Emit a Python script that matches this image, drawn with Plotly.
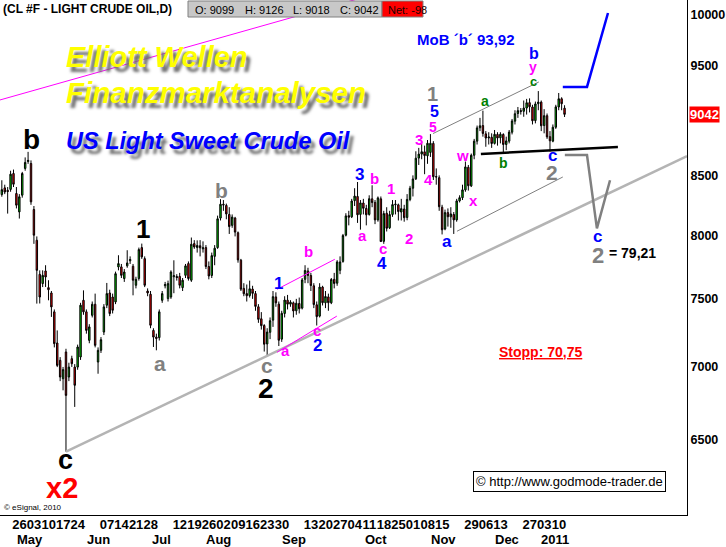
import math
import pandas as pd
import plotly.graph_objects as go

# ---------------- data ----------------
dates = pd.bdate_range("2010-04-20", "2011-01-14")

opens = [8336, 8393, 8372, 8380, 8516, 8345, 8191, 8331, 8560, 8620,
         8603, 8211, 7959, 7689, 7617, 7715, 7586, 7545, 7402, 7172,
         7047, 6917, 7107, 6929, 7059, 6999, 6999, 7071, 7489, 7402,
         7191, 7376, 7459, 7035, 7119, 7252, 7452, 7545, 7514, 7477,
         7747, 7747, 7656, 7755, 7795, 7752, 7604, 7656, 7900, 7812,
         7560, 7535, 7264, 7215, 7211, 7489, 7600, 7502, 7514, 7670,
         7672, 7673, 7586, 7681, 7773, 7643, 7932, 7900, 7915, 7890,
         7900, 7750, 7680, 7830, 7900, 8140, 8255, 8245, 8170, 8080,
         8140, 8020, 7800, 7580, 7540, 7525, 7575, 7540, 7440, 7350,
         7300, 7165, 7250, 7340, 7515, 7460, 7200, 7390, 7490, 7460,
         7470, 7410, 7465, 7430, 7650, 7715, 7680, 7600, 7455, 7370,
         7590, 7470, 7515, 7470, 7650, 7620, 7720, 7790, 8000, 8160,
         8150, 8285, 8320, 8170, 8265, 8220, 8170, 8300, 8270, 8125,
         8300, 7950, 8180, 8060, 8170, 8250, 8250, 8190, 8215, 8145,
         8295, 8390, 8470, 8650, 8685, 8705, 8670, 8700, 8780, 8490,
         8480, 8230, 8050, 8185, 8150, 8170, 8125, 8283, 8310, 8376,
         8570, 8410, 8675, 8800, 8920, 8940, 8865, 8828, 8835, 8780,
         8860, 8830, 8860, 8770, 8800, 8880, 8980, 9050, 9076, 9070,
         9100, 9150, 9110, 8985, 9140, 9155, 8940, 9030, 8840, 8800,
         8925, 9110, 9186, 9099]

highs = [8458, 8420, 8400, 8540, 8550, 8400, 8340, 8530, 8656, 8705,
         8630, 8240, 7990, 7720, 7720, 7760, 7643, 7560, 7420, 7264,
         7070, 7000, 7130, 7030, 7080, 7020, 7160, 7470, 7565, 7420,
         7310, 7480, 7540, 7140, 7215, 7460, 7622, 7570, 7540, 7710,
         7839, 7770, 7730, 7879, 7830, 7770, 7670, 7900, 7932, 7830,
         7580, 7560, 7280, 7240, 7420, 7560, 7630, 7640, 7720, 7799,
         7690, 7700, 7660, 7770, 7790, 7981, 7960, 7958, 7960, 7950,
         7920, 7790, 7860, 7920, 8160, 8297, 8290, 8260, 8230, 8170,
         8150, 8030, 7810, 7620, 7610, 7640, 7600, 7560, 7460, 7400,
         7310, 7280, 7360, 7560, 7550, 7480, 7410, 7520, 7530, 7490,
         7480, 7500, 7510, 7660, 7760, 7740, 7700, 7620, 7480, 7620,
         7600, 7560, 7540, 7660, 7700, 7800, 7830, 8010, 8180, 8200,
         8300, 8390, 8443, 8290, 8300, 8250, 8330, 8415, 8290, 8320,
         8320, 8200, 8230, 8200, 8290, 8290, 8260, 8300, 8250, 8340,
         8410, 8500, 8710, 8740, 8780, 8760, 8810, 8863, 8800, 8560,
         8500, 8250, 8210, 8220, 8230, 8190, 8300, 8330, 8420, 8620,
         8590, 8690, 8820, 8940, 9010, 9076, 8890, 8880, 8870, 8900,
         8880, 8880, 8870, 8840, 8900, 9000, 9080, 9110, 9100, 9170,
         9185, 9190, 9130, 9160, 9258, 9170, 9090, 9050, 8890, 8950,
         9130, 9240, 9200, 9126]

lows = [8318, 8340, 8177, 8360, 8400, 8220, 8136, 8310, 8540, 8600,
        8250, 7930, 7464, 7465, 7590, 7591, 7489, 7364, 7140, 6999,
        6900, 6836, 6424, 6900, 7000, 6722, 6980, 7050, 7380, 7240,
        7170, 7360, 7140, 6952, 7100, 7230, 7430, 7370, 7390, 7460,
        7720, 7660, 7630, 7740, 7770, 7527, 7580, 7640, 7810, 7590,
        7520, 7280, 7143, 7119, 7190, 7470, 7580, 7480, 7500, 7543,
        7640, 7580, 7560, 7660, 7640, 7630, 7890, 7860, 7830, 7860,
        7730, 7650, 7660, 7760, 7890, 8120, 8200, 8130, 8010, 8060,
        7990, 7780, 7560, 7520, 7480, 7510, 7500, 7410, 7320, 7270,
        7110, 7076, 7200, 7290, 7440, 7150, 7180, 7360, 7420, 7440,
        7360, 7380, 7390, 7420, 7620, 7620, 7560, 7430, 7300, 7360,
        7450, 7430, 7410, 7460, 7580, 7600, 7690, 7780, 7990, 8080,
        8140, 8240, 8100, 8045, 8170, 8080, 8160, 8230, 8090, 8110,
        7945, 7930, 8030, 8050, 8150, 8170, 8120, 8120, 8110, 8122,
        8280, 8320, 8460, 8590, 8640, 8510, 8600, 8660, 8460, 8420,
        8200, 8006, 8040, 8070, 8060, 8010, 8110, 8270, 8290, 8360,
        8370, 8400, 8640, 8770, 8890, 8840, 8750, 8770, 8740, 8770,
        8760, 8780, 8700, 8720, 8780, 8860, 8950, 9010, 9040, 9020,
        9040, 9060, 8950, 8960, 9080, 8890, 8870, 8820, 8708, 8790,
        8910, 9080, 9080, 9018]

closes = [8378, 8358, 8362, 8510, 8424, 8247, 8317, 8516, 8612, 8630,
          8275, 8000, 7720, 7514, 7681, 7668, 7570, 7439, 7167, 7011,
          6929, 6981, 6801, 6999, 7023, 6871, 7143, 7452, 7402, 7264,
          7290, 7459, 7155, 7119, 7196, 7439, 7540, 7389, 7414, 7694,
          7773, 7681, 7707, 7778, 7805, 7643, 7650, 7884, 7826, 7604,
          7545, 7302, 7215, 7205, 7402, 7540, 7610, 7617, 7707, 7678,
          7664, 7604, 7643, 7755, 7656, 7927, 7905, 7917, 7898, 7898,
          7750, 7676, 7836, 7895, 8134, 8255, 8249, 8174, 8070, 8148,
          8025, 7802, 7574, 7539, 7524, 7577, 7542, 7443, 7346, 7299,
          7163, 7252, 7336, 7517, 7470, 7192, 7391, 7491, 7460, 7475,
          7409, 7467, 7425, 7645, 7719, 7680, 7602, 7457, 7366, 7590,
          7471, 7518, 7471, 7649, 7618, 7786, 7786, 7997, 8158, 8147,
          8282, 8323, 8167, 8266, 8221, 8167, 8301, 8269, 8125, 8308,
          7949, 8177, 8056, 8169, 8252, 8255, 8194, 8218, 8143, 8295,
          8390, 8469, 8649, 8685, 8706, 8672, 8781, 8781, 8488, 8486,
          8234, 8044, 8185, 8151, 8174, 8125, 8283, 8310, 8376, 8573,
          8411, 8675, 8800, 8919, 8938, 8869, 8828, 8837, 8779, 8861,
          8828, 8862, 8770, 8802, 8881, 8982, 9048, 9076, 9070, 9100,
          9149, 9112, 8984, 9138, 9155, 8938, 9030, 8838, 8803, 8925,
          9111, 9186, 9140, 9042]

week_label_dates = ["2010-04-26", "2010-05-03", "2010-05-10", "2010-05-17", "2010-05-24",
                    "2010-06-07", "2010-06-14", "2010-06-21", "2010-06-28",
                    "2010-07-12", "2010-07-19", "2010-07-26",
                    "2010-08-02", "2010-08-09", "2010-08-16", "2010-08-23", "2010-08-30",
                    "2010-09-13", "2010-09-20", "2010-09-27",
                    "2010-10-04", "2010-10-11", "2010-10-18", "2010-10-25",
                    "2010-11-01", "2010-11-08", "2010-11-15",
                    "2010-11-29", "2010-12-06", "2010-12-13",
                    "2010-12-27", "2011-01-03", "2011-01-10"]
week_labels = ["26", "03", "10", "17", "24", "07", "14", "21", "28", "12", "19", "26",
               "02", "09", "16", "23", "30", "13", "20", "27", "04", "11", "18", "25",
               "01", "08", "15", "29", "06", "13", "27", "03", "10"]
month_labels = ["May", "Jun", "Jul", "Aug", "Sep", "Oct", "Nov", "Dec", "2011"]
price_ticks = [6500, 7000, 7500, 8000, 8500, 9500, 10000]
last_price = 9042

# drawn analysis lines: (bar index, price)
support_x, support_y = [22, 235], [6424, 8668]
magenta_top_x, magenta_top_y = [-0.63, 130], [9175, 10232]
chan1_up_x, chan1_up_y = [94.4, 114.2], [7573, 7807]
chan1_lo_x, chan1_lo_y = [94.4, 114.9], [7105, 7370]
chan2_up_x, chan2_up_y = [147.9, 184.2], [8868, 9344]
chan2_lo_x, chan2_lo_y = [156.1, 192.4], [8032, 8486]
neck_x, neck_y = [164.3, 211.3], [8686, 8748]
proj_up_x, proj_up_y = [192.4, 200.7, 207.9], [9297, 9297, 10020]
proj_dn_x, proj_dn_y = [193.1, 200.7, 204.1, 208.6], [8677, 8677, 8056, 8458]

# ---------------- figure ----------------
FONT = "Liberation Sans, Arial, sans-serif"
W_PLOT, H_PLOT = 687, 515


def PX(x):
    return x / W_PLOT


def PY(y):
    return 1 - y / H_PLOT


bar_x = list(range(len(dates)))
pos = {d.strftime("%Y-%m-%d"): i for i, d in enumerate(dates)}
tickvals = [pos[d] for d in week_label_dates]

fig = go.Figure()
fig.add_trace(go.Candlestick(
    x=bar_x, open=opens, high=highs, low=lows, close=closes,
    increasing=dict(line=dict(color="black", width=1), fillcolor="#00E000"),
    decreasing=dict(line=dict(color="black", width=1), fillcolor="#FF0000"),
    whiskerwidth=0, hoverinfo="skip", showlegend=False))


def line(xs, ys, color, width):
    fig.add_trace(go.Scatter(x=xs, y=ys, mode="lines", line=dict(color=color, width=width),
                             hoverinfo="skip", showlegend=False, cliponaxis=True))


line(support_x, support_y, "#B4B4B4", 2.5)
line(magenta_top_x, magenta_top_y, "#FF00FF", 1)
line(chan1_up_x, chan1_up_y, "#FF00FF", 1)
line(chan1_lo_x, chan1_lo_y, "#FF00FF", 1)
line(chan2_up_x, chan2_up_y, "#808080", 1)
line(chan2_lo_x, chan2_lo_y, "#808080", 1)
line(neck_x, neck_y, "black", 2.5)
line(proj_up_x, proj_up_y, "#0000FF", 2.5)
line(proj_dn_x, proj_dn_y, "#808080", 2.5)

ann = []


def text(x, y, t, color="black", size=14, bold=True, xanchor="center", **kw):
    ann.append(dict(x=PX(x), y=PY(y), xref="paper", yref="paper", text=(f"<b>{t}</b>" if bold else t),
                    showarrow=False, xanchor=xanchor, yanchor="middle",
                    font=dict(family=FONT, size=size, color=color), **kw))


# wave labels
for t, x, y, s in [("b", 31, 139, 28), ("1", 143, 229, 26), ("c", 65, 460, 27), ("2", 266, 388, 28)]:
    text(x, y, t, "black", s)
text(62, 488, "x2", "#FF0000", 29)
for t, x, y, s in [("b", 222, 190, 21), ("a", 160, 363, 21), ("c", 267, 365, 21), ("1", 432, 94, 20),
                   ("2", 552, 172, 21), ("2", 598, 255, 22)]:
    text(x, y, t, "#808080", s)
for t, x, y, s in [("3", 359, 174, 17), ("4", 382, 263, 17), ("1", 278, 283, 17), ("2", 317, 345, 17),
                   ("5", 434, 111, 16), ("a", 447, 241, 17), ("b", 534, 53, 16), ("c", 552, 156, 17),
                   ("c", 597, 236, 17)]:
    text(x, y, t, "#0000FF", s)
for t, x, y, s in [("b", 308, 251, 15), ("a", 285, 350, 15), ("c", 317, 330, 15), ("a", 362, 235, 15),
                   ("b", 374, 178, 15), ("c", 383, 249, 15), ("1", 391, 188, 15), ("2", 409, 238, 15),
                   ("3", 419, 139, 15), ("4", 428, 179, 15), ("5", 433, 127, 14), ("w", 462, 156, 15),
                   ("x", 473, 200, 15), ("y", 533, 67, 14)]:
    text(x, y, t, "#FF00FF", s)
for t, x, y, s in [("a", 485, 101, 14), ("b", 503, 163, 14), ("c", 533, 81, 13)]:
    text(x, y, t, "#008000", s)

text(607, 253, "= 79,21", "black", 14, xanchor="left")
text(466, 40, "MoB ´b´ 93,92", "#0000FF", 15)
text(540, 352, "<u>Stopp: 70,75</u>", "#FF0000", 14)

# titles with shadow
shadow = "4px 5px 3px #707070"
for t, y, s, c in [("Elliott Wellen", 57, 29, "#FFFF00"), ("Finanzmarktanalysen", 92, 29.5, "#FFFF00"),
                   ("US Light Sweet Crude Oil", 141, 23.5, "#0000FF")]:
    ann.append(dict(x=PX(64), y=PY(y), xref="paper", yref="paper", text=t, showarrow=False,
                    xanchor="left", yanchor="middle",
                    font=dict(family=FONT, size=s, color=c, weight="bold", style="italic", shadow=shadow)))

# header
text(1, 9, "(CL #F - LIGHT CRUDE OIL,D)", "black", 12, xanchor="left")
for t, x in [("O: 9099", 193), ("H: 9126", 243), ("L: 9018", 291), ("C: 9042", 338)]:
    text(x, 10, t, "black", 11, bold=False, xanchor="left")
text(386, 10, "Net: -98", "#200000", 11, bold=False, xanchor="left")

# copyright
ann.append(dict(x=PX(569), y=PY(481), xref="paper", yref="paper",
                text="© http://www.godmode-trader.de", showarrow=False, xanchor="center", yanchor="middle",
                font=dict(family=FONT, size=13, color="black"), bgcolor="white",
                bordercolor="black", borderwidth=1, borderpad=2))
text(2, 507, "© eSignal, 2010", "black", 8, bold=False, xanchor="left")

# month labels
for t, x in zip(month_labels, [30, 98, 161, 218, 294, 376, 443, 507, 555]):
    text(x, 539, t, "black", 13)

# last price tag
ann.append(dict(x=PX(689), y=math.log10(last_price), xref="paper", yref="y",
                text=f"<b>{last_price}</b>", showarrow=False, xanchor="left", yanchor="middle",
                font=dict(family=FONT, size=13, color="white"), bgcolor="#FF0000", borderpad=0))

shapes = [
    dict(type="rect", xref="paper", yref="paper", x0=PX(188), x1=PX(382), y0=PY(17), y1=PY(1),
         fillcolor="#C8C8C8", line=dict(color="#808080", width=1)),
    dict(type="rect", xref="paper", yref="paper", x0=PX(382), x1=PX(423), y0=PY(17), y1=PY(1),
         fillcolor="#FF0000", line=dict(color="#808080", width=1)),
]

ylo = 4 - 500 / 2272
yhi = 4 + 15 / 2272

fig.update_layout(
    width=726, height=547,
    margin=dict(l=0, r=39, t=0, b=32, pad=0),
    paper_bgcolor="white", plot_bgcolor="white",
    showlegend=False, hovermode=False,
    annotations=ann, shapes=shapes,
    xaxis=dict(range=[-0.63, 235.0], showgrid=False, zeroline=False, showline=True,
               linecolor="black", linewidth=1, ticks="", rangeslider=dict(visible=False),
               tickmode="array", tickvals=tickvals, ticktext=[f"<b>{t}</b>" for t in week_labels],
               tickfont=dict(family=FONT, size=13, color="black"), tickangle=0,
               ticklabelshift=6, ticklabelstandoff=-3, fixedrange=True, automargin=False),
    yaxis=dict(type="log", range=[ylo, yhi], side="right", showgrid=False, zeroline=False,
               showline=True, linecolor="black", linewidth=1, ticks="",
               tickmode="array", tickvals=price_ticks, ticktext=[f"<b>{p}</b>" for p in price_ticks],
               tickfont=dict(family=FONT, size=12.5, color="black"), ticklabelstandoff=0,
               fixedrange=True, automargin=False),
)

fig.write_html("out.html", config={"displayModeBar": False},
               post_script="document.body.style.margin='0px';document.body.style.padding='0px';")
